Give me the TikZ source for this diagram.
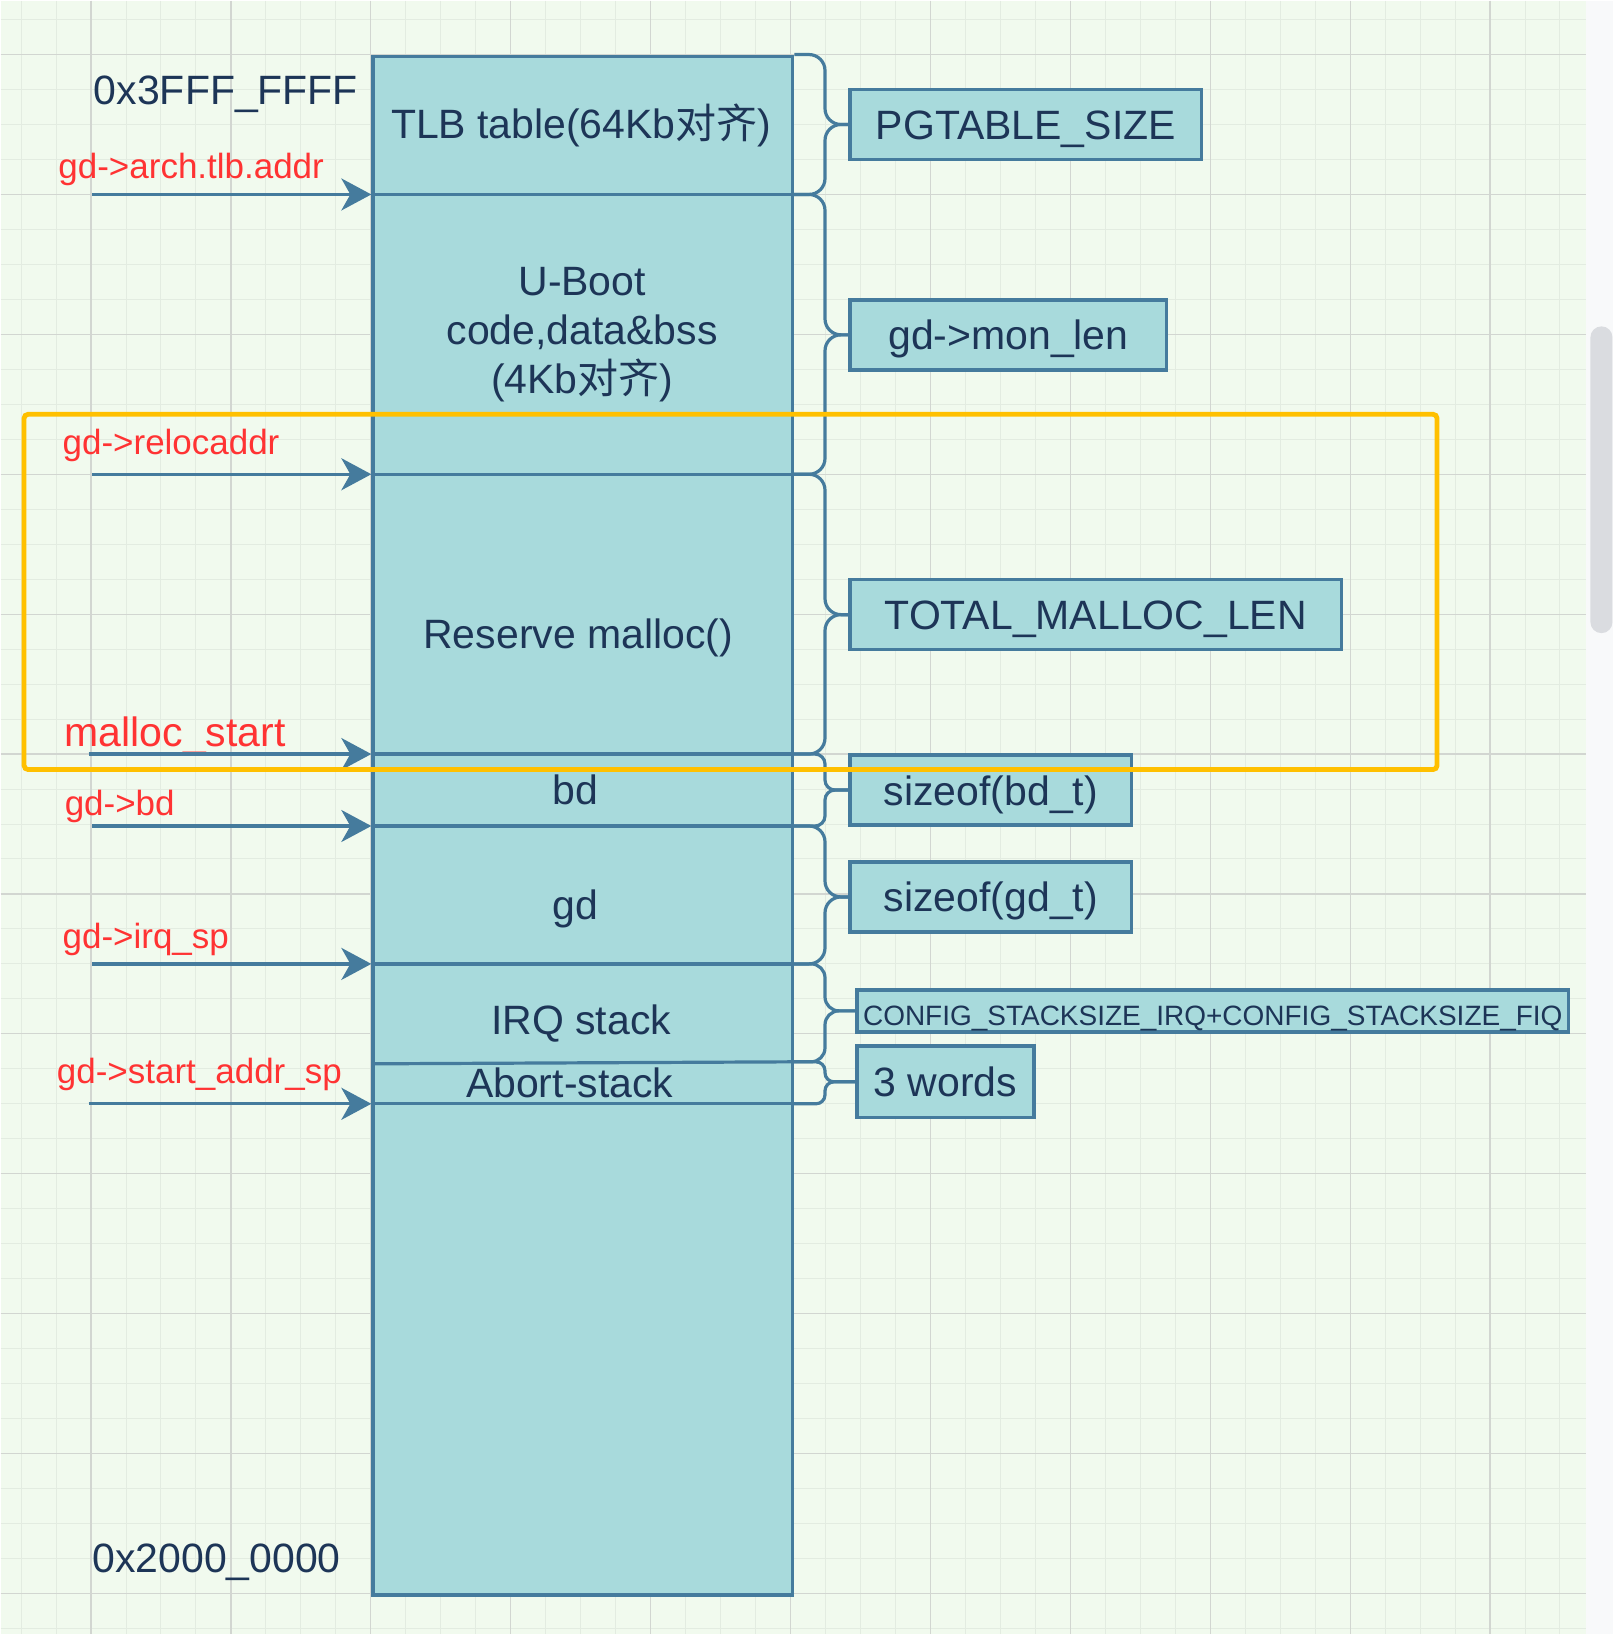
\documentclass[tikz,border=0pt]{standalone}
\usepackage{fontspec}
\setmainfont{Liberation Sans}
\newfontfamily\cjk{Noto Sans CJK SC}
\usetikzlibrary{arrows.meta}
\definecolor{bgcol}{HTML}{F1FAEE}
\definecolor{minorcol}{HTML}{E3ECE1}
\definecolor{majorcol}{HTML}{D2D6D1}
\definecolor{barcol}{HTML}{F8F9FA}
\definecolor{thumbcol}{HTML}{DADCE0}
\definecolor{fillcol}{HTML}{A8DADC}
\definecolor{edgecol}{HTML}{457B9D}
\definecolor{inkcol}{HTML}{1D3557}
\definecolor{redcol}{HTML}{FF3333}
\definecolor{goldcol}{HTML}{FFC000}
\begin{document}
\begin{tikzpicture}
		[x=0.5pt,y=-0.5pt,
		minorline/.style={draw=minorcol,line width=0.5pt},
		majorline/.style={draw=majorcol,line width=0.6pt},
		memcol/.style={draw=edgecol,fill=fillcol,line width=1.7pt,inner sep=0pt,anchor=north west},
		celltext/.style={text=inkcol,inner sep=0pt,font=\fontsize{20.5}{24.5}\selectfont},
		addr/.style={text=inkcol,inner sep=0pt,font=\fontsize{20.5}{24.5}\selectfont},
		ptrlabel/.style={text=redcol,inner sep=0pt,font=\fontsize{17.5}{21}\selectfont},
		sizebox/.style={draw=edgecol,fill=fillcol,line width=1.7pt,inner sep=0pt,
minimum height=35pt,text=inkcol,font=\fontsize{20.5}{24.5}\selectfont,
text height=20pt,text depth=5pt},
		divline/.style={draw=edgecol,line width=1.6pt},
		ptr/.style={draw=edgecol,line width=1.6pt,-{Stealth[length=15pt,width=16pt,inset=4.5pt]}},
		brace/.style={draw=edgecol,line width=1.6pt},
		hilite/.style={draw=goldcol,line width=2.4pt,rounded corners=2pt}]
		\fill[bgcol] (0,0) rectangle (1587,1635);
		\fill[barcol] (1587,0) rectangle (1614,1635);
		\foreach \x in {20.5,55.5,...,1587} \draw[minorline] (\x,0) -- (\x,1635);
		\foreach \y in {19,54,...,1635} \draw[minorline] (0,\y) -- (1587,\y);
		\foreach \x in {90.5,230.5,...,1587} \draw[majorline] (\x,0) -- (\x,1635);
		\foreach \y in {54,194,...,1635} \draw[majorline] (0,\y) -- (1587,\y);
		\fill[thumbcol,rounded corners=5.5pt] (1591,326) rectangle (1613,633);
		\node at (371,54) (mem) [memcol,minimum width=210pt,minimum height=770pt] {};
		\node at (581,138) (tlbtxt) [celltext,anchor=base] {TLB table(64Kb{\cjk 对齐})};
		\node at (582,393) (ubtxt) [celltext,anchor=base,align=center] {U-Boot\\code,data\&bss\\(4Kb{\cjk 对齐})};
		\node at (578,648) (rsvtxt) [celltext,anchor=base] {Reserve malloc()};
		\node at (575,804) (bdtxt) [celltext,anchor=base] {bd};
		\node at (575,920) (gdtxt) [celltext,anchor=base] {gd};
		\node at (581,1035) (irqtxt) [celltext,anchor=base] {IRQ stack};
		\node at (569.5,1098) (abttxt) [celltext,anchor=base] {Abort-stack};
		\node at (93,104) (hiaddr) [addr,anchor=base west] {0x3FFF\_FFFF};
		\node at (91.5,1573) (loaddr) [addr,anchor=base west] {0x2000\_0000};
		\node at (57.5,178) (tlblbl) [ptrlabel,anchor=base west] {gd->arch.tlb.addr};
		\node at (61.7,454) (reloclbl) [ptrlabel,anchor=base west] {gd->relocaddr};
		\node at (63.8,746.7) (malloclbl) [ptrlabel,anchor=base west,font=\fontsize{20.5}{24.5}\selectfont] {malloc\_start};
		\node at (63.8,815) (bdlbl) [ptrlabel,anchor=base west] {gd->bd};
		\node at (61.7,948.3) (irqlbl) [ptrlabel,anchor=base west] {gd->irq\_sp};
		\node at (56,1083.3) (splbl) [ptrlabel,anchor=base west] {gd->start\_addr\_sp};
		\foreach \n/\s/\y in {tlb/91.5/194,reloc/91.5/474,malloc/88/754,bd/91.5/826,irq/91.5/964,sp/88/1104}
		{
			\coordinate (\n S) at (\s,\y);
			\coordinate (\n L) at (371,\y);
			\coordinate (\n R) at (791,\y);
		}
		\coordinate (abtL) at (371,1064);
		\coordinate (abtR) at (791,1062);
		\foreach \n in {tlb,reloc,malloc,bd,irq,abt,sp}
			\draw[divline] (\n L) -- (\n R);
		\foreach \n in {tlb,reloc,malloc,bd,irq,sp}
			\draw[ptr] (\n S) -- (\n L);
		\node at (1026,124) (pg) [sizebox,minimum width=176pt] {PGTABLE\_SIZE};
		\node at (1008.5,334.5) (mon) [sizebox,minimum width=158.5pt] {gd->mon\_len};
		\node at (1096,614.5) (tml) [sizebox,minimum width=246pt] {TOTAL\_MALLOC\_LEN};
		\node at (991,790) (bdt) [sizebox,minimum width=141pt] {sizeof(bd\_t)};
		\node at (991,897) (gdt) [sizebox,minimum width=141pt] {sizeof(gd\_t)};
		\node at (1213,1011) (cfg) [sizebox,minimum width=356pt,minimum height=21pt,
font=\fontsize{14}{17}\selectfont,text height=17.5pt,text depth=2.5pt] {CONFIG\_STACKSIZE\_IRQ+CONFIG\_STACKSIZE\_FIQ};
		\node at (945.5,1082) (words) [sizebox,minimum width=88.5pt,minimum height=36pt] {3 words};
		\coordinate (stem) at (825,0);
		\foreach \t/\b/\n/\r in {mem.north east/tlbR/pg/8pt,tlbR/relocR/mon/8pt,relocR/mallocR/tml/8pt,
mallocR/bdR/bdt/5pt,bdR/irqR/gdt/8pt,irqR/abtR/cfg/7pt,abtR/spR/words/4.5pt}
		{
			\draw[brace,rounded corners=\r] (\t) -| (stem |- \n.west) -- (\n.west);
			\draw[brace,rounded corners=\r] (\n.west) -- (stem |- \n.west) |- (\b);
		}
		\draw[hilite] (23.5,414) rectangle (1437.5,769.5);
	\end{tikzpicture}
\end{document}
